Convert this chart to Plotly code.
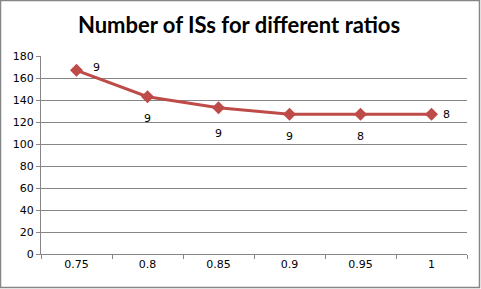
import plotly.graph_objects as go

categories = ["0.75", "0.8", "0.85", "0.9", "0.95", "1"]
values = [167, 143, 133, 127, 127, 127]
labels = ["9", "9", "9", "9", "8", "8"]
yticks = [0, 20, 40, 60, 80, 100, 120, 140, 160, 180]

W, H = 481, 289
ML, MR, MT, MB = 41, 14, 56, 35
pw, ph = W - ML - MR, H - MT - MB

fig = go.Figure()
fig.add_trace(go.Scatter(
    x=categories, y=values, mode="lines+markers",
    line=dict(color="#BE4B48", width=3),
    marker=dict(symbol="diamond", size=10, color="#BE4B48"),
    hoverinfo="skip", showlegend=False,
))

# label offsets (positions only)
offsets = [(20, 3), (0, -22), (0, -26), (0, -22), (0, -22), (15, 0)]
for i, (v, t, (dx, dy)) in enumerate(zip(values, labels, offsets)):
    fig.add_annotation(x=i, y=v, text=t, showarrow=False, xshift=dx, yshift=dy,
                       font=dict(family="DejaVu Sans", size=11, color="black"))

def px_x(p):
    return (p - ML) / pw

def px_y(p):
    return 1 - (p - MT) / ph

fig.add_shape(type="rect", xref="paper", yref="paper",
              x0=px_x(0.5), x1=px_x(479.5), y0=px_y(287.5), y1=px_y(0.5),
              line=dict(color="#868686", width=1.5), layer="below")

fig.update_layout(
    width=W, height=H,
    margin=dict(l=ML, r=MR, t=MT, b=MB),
    paper_bgcolor="white", plot_bgcolor="white",
    title=dict(text="<b>Number of ISs for different ratios</b>",
               x=0.497, xanchor="center", y=1 - 25 / H, yanchor="middle",
               font=dict(family="Lato", size=22, color="black")),
    xaxis=dict(type="category", tickson="boundaries", ticks="outside", ticklen=4,
               tickcolor="#868686", showline=True, linecolor="#868686", linewidth=1,
               showgrid=False, range=[-0.5, 5.5],
               tickfont=dict(family="DejaVu Sans", size=11, color="black")),
    yaxis=dict(range=[0, 180], tickvals=yticks, ticks="outside", ticklen=4,
               tickcolor="#868686", showline=True, linecolor="#868686", linewidth=1,
               showgrid=True, gridcolor="#868686", gridwidth=1, zeroline=False,
               tickfont=dict(family="DejaVu Sans", size=11, color="black")),
)

fig.write_html("out.html", config={"displayModeBar": False},
               post_script="document.body.style.margin='0';")
